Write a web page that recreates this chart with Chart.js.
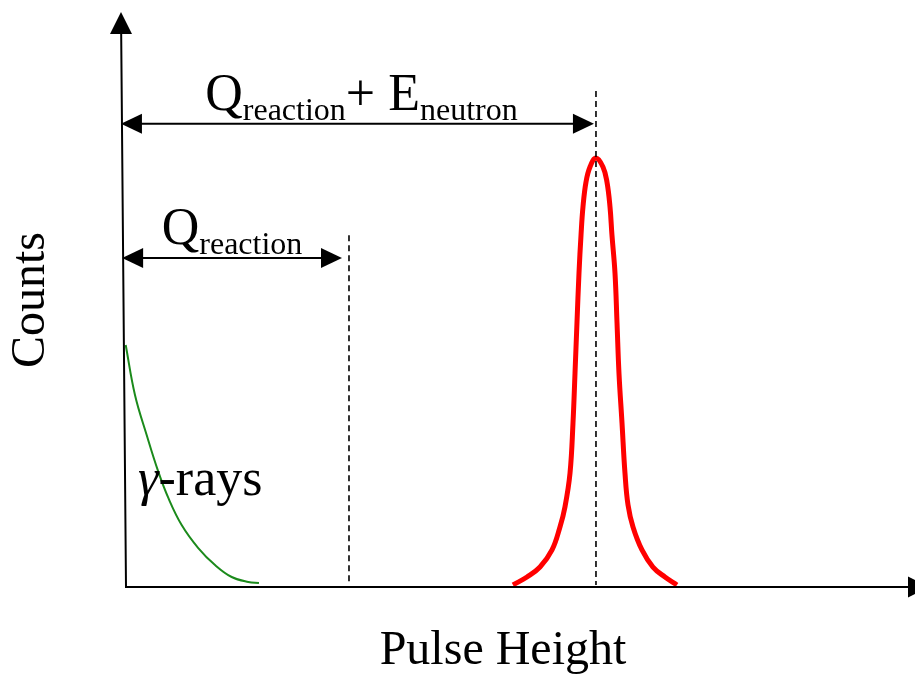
<!DOCTYPE html>
<html>
<head>
<meta charset="utf-8">
<script src="https://cdn.jsdelivr.net/npm/chart.js@4/dist/chart.umd.min.js"></script>
<style>
  html, body { margin:0; padding:0; background:#fff; }
  #wrap { width:915px; height:678px; }
</style>
</head>
<body>
<div id="wrap"><canvas id="chart"></canvas></div>
<script>
// gamma-ray background, falls off from zero pulse height
const gammaX = [0.09, 1.28, 2.78, 4.27, 5.56, 7.27, 9.40, 11.55, 13.69, 15.82, 17.19];
const gammaY = [42.16, 33.45, 26.48, 20.09, 15.51, 10.80, 6.79, 3.83, 1.74, 0.87, 0.70];

// neutron capture peak
const peakX = [49.78, 51.58, 53.25, 54.79, 55.81, 56.45, 57.10, 57.48, 57.74, 57.99, 58.25, 58.51, 58.76, 59.15, 59.66, 60.43,
               61.33, 61.84, 62.23, 62.48, 62.87, 63.13, 63.38, 63.77, 64.15, 64.54, 65.18, 66.33, 67.74, 69.28, 70.82];
const peakY = [0.35, 1.74, 3.48, 6.45, 10.45, 13.94, 19.86, 28.57, 37.28, 45.99, 54.70, 61.32, 66.20, 70.56, 73.17, 74.74,
               73.17, 70.56, 66.20, 61.32, 54.70, 45.99, 37.28, 28.57, 19.86, 14.29, 10.45, 6.45, 3.48, 1.74, 0.35];

// dashed markers: Q_reaction and the peak position
const markerX = [28.74, 60.43];
const markerTop = [61.3, 86.4];

// double arrows measured from the y axis
const arrowY = [57.3, 80.7];
const arrowEnd = [27.84, 60.17];
const arrowLabels = [
  [['Q', 'main'], ['reaction', 'sub']],
  [['Q', 'main'], ['reaction', 'sub'], ['+ E', 'main'], ['neutron', 'sub']]
];

const axisTitles = ['Pulse Height', 'Counts'];
const gammaLabel = [['γ', 'italic'], ['-rays', 'normal']];
const gammaLabelAt = [1.67, 15.7];

const SERIF = '"Liberation Serif", "Times New Roman", serif';

function toPts(xs, ys){ return xs.map((x,i)=>({x, y:ys[i]})); }

function arrowHead(ctx, tipX, tipY, dx, dy, len, half){
  // dx,dy = unit direction the arrow points
  const bx = tipX - dx*len, by = tipY - dy*len;
  ctx.beginPath();
  ctx.moveTo(tipX, tipY);
  ctx.lineTo(bx - dy*half, by + dx*half);
  ctx.lineTo(bx + dy*half, by - dx*half);
  ctx.closePath();
  ctx.fill();
}

const sketchPlugin = {
  id: 'sketch',
  afterDatasetsDraw(chart){
    const ctx = chart.ctx;
    const xs = chart.scales.x, ys = chart.scales.y;
    const area = chart.chartArea;
    const x0 = xs.getPixelForValue(0), y0 = ys.getPixelForValue(0);
    const lean = 5; // the y axis leans slightly in the original sketch
    const axisXAt = py => x0 + 1 - lean * (y0 - py) / (y0 - area.top);

    ctx.save();
    ctx.strokeStyle = '#000';
    ctx.fillStyle = '#000';

    // axes
    ctx.lineWidth = 2;
    ctx.beginPath();
    ctx.moveTo(x0 + 1, y0);
    ctx.lineTo(axisXAt(area.top + 20), area.top + 20);
    ctx.moveTo(x0, y0);
    ctx.lineTo(area.right + 30, y0);
    ctx.stroke();
    arrowHead(ctx, axisXAt(area.top), area.top - 1, 0, -1, 22, 11);
    arrowHead(ctx, area.right + 48, y0, 1, 0, 21, 10.5);

    // dashed markers
    ctx.lineWidth = 1.6;
    ctx.setLineDash([6, 4]);
    markerX.forEach((mx, i) => {
      const px = xs.getPixelForValue(mx);
      ctx.beginPath();
      ctx.moveTo(px, ys.getPixelForValue(markerTop[i]));
      ctx.lineTo(px, y0 - 2);
      ctx.stroke();
    });
    ctx.setLineDash([]);

    // double arrows with labels
    arrowY.forEach((ay, i) => {
      const py = ys.getPixelForValue(ay);
      const left = axisXAt(py) - 1;
      const right = xs.getPixelForValue(arrowEnd[i]);
      ctx.lineWidth = 2;
      ctx.beginPath();
      ctx.moveTo(left + 10, py);
      ctx.lineTo(right - 10, py);
      ctx.stroke();
      arrowHead(ctx, left, py, -1, 0, 21, 10);
      arrowHead(ctx, right, py, 1, 0, 21, 10);

      const segs = arrowLabels[i];
      const fontFor = k => k === 'main' ? `52px ${SERIF}` : `32px ${SERIF}`;
      let total = 0;
      segs.forEach(([t, k]) => { ctx.font = fontFor(k); total += ctx.measureText(t).width; });
      let cx = (left + right) / 2 - total / 2 + (segs.length > 2 ? 4 : 0);
      ctx.textAlign = 'left';
      ctx.textBaseline = 'alphabetic';
      segs.forEach(([t, k]) => {
        ctx.font = fontFor(k);
        ctx.fillText(t, cx, k === 'main' ? py - 14 : py - 4);
        cx += ctx.measureText(t).width;
      });
    });

    // gamma label, on top of the green curve
    ctx.textAlign = 'left';
    ctx.textBaseline = 'alphabetic';
    let gx = xs.getPixelForValue(gammaLabelAt[0]);
    const gy = ys.getPixelForValue(gammaLabelAt[1]) - 2;
    gammaLabel.forEach(([t, style]) => {
      ctx.font = `${style === 'italic' ? 'italic ' : ''}52px ${SERIF}`;
      ctx.fillText(t, gx, gy);
      gx += ctx.measureText(t).width;
    });

    ctx.restore();
  }
};

const titleFont = { family: SERIF, size: 48, lineHeight: 1 };

new Chart(document.getElementById('chart'), {
  type: 'scatter',
  data: {
    datasets: [
      { label: 'gamma', data: toPts(gammaX, gammaY), showLine: true, borderColor: '#1b8a1b',
        borderWidth: 2, pointRadius: 0, tension: 0.4, clip: false },
      { label: 'peak', data: toPts(peakX, peakY), showLine: true, borderColor: '#ff0000',
        borderWidth: 5, pointRadius: 0, tension: 0.4, clip: false, borderJoinStyle: 'round' }
    ]
  },
  options: {
    responsive: true,
    maintainAspectRatio: false,
    animation: false,
    layout: { padding: { top: 13, right: 34, left: 0, bottom: 0 } },
    plugins: { legend: { display: false }, tooltip: { enabled: false } },
    scales: {
      x: {
        type: 'linear', min: 0, max: 97,
        grid: { display: false }, border: { display: false }, ticks: { display: false },
        title: { display: true, text: axisTitles[0], color: '#000', font: titleFont, padding: { top: 0, bottom: 3 } },
        afterFit(s){ s.height = 91; }
      },
      y: {
        type: 'linear', min: 0, max: 100,
        grid: { display: false }, border: { display: false }, ticks: { display: false },
        title: { display: true, text: axisTitles[1], color: '#000', font: titleFont, padding: { top: 7, bottom: 0 } },
        afterFit(s){ s.width = 125; }
      }
    }
  },
  plugins: [sketchPlugin]
});
</script>
</body>
</html>
